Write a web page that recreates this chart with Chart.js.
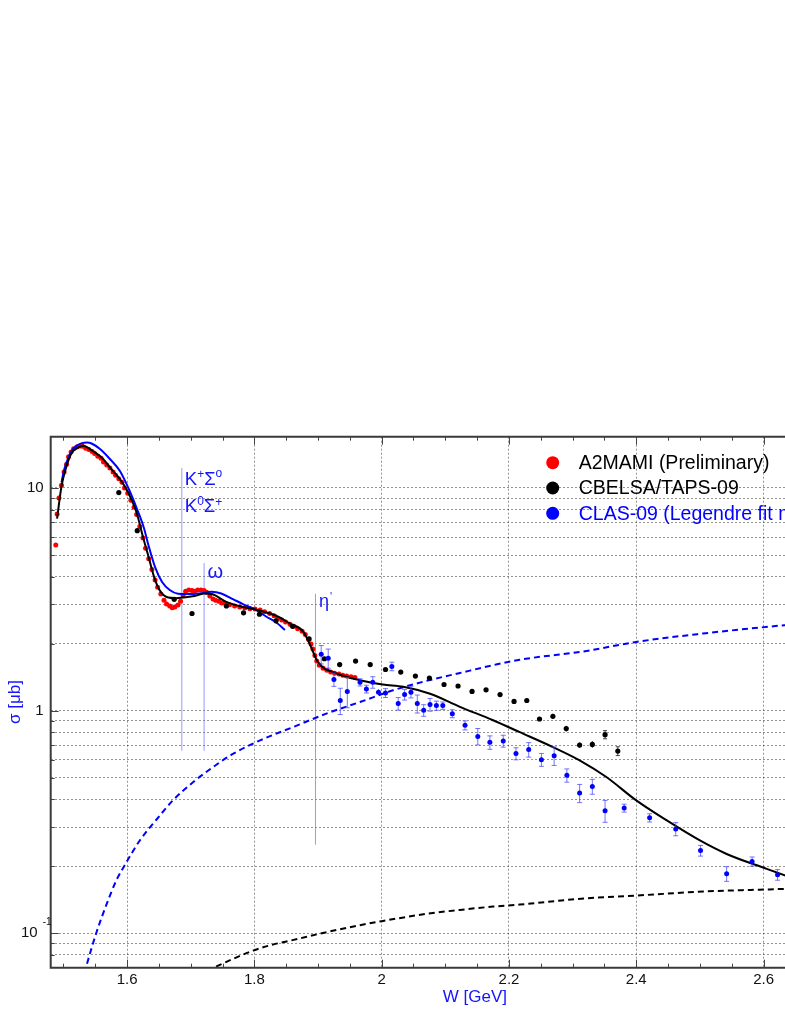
<!DOCTYPE html>
<html>
<head>
<meta charset="utf-8">
<script src="https://cdn.jsdelivr.net/npm/chart.js@4.4.1/dist/chart.umd.min.js"></script>
<style>
  html, body { margin: 0; padding: 0; background: #fff; overflow: hidden; }
  #wrap { width: 900px; height: 1015px; }
</style>
</head>
<body>
<div id="wrap"><canvas id="sigmaChart" width="900" height="1015"></canvas></div>
<script>
// axis ranges and ticks
const xRange = [1.48, 2.7];
const yRange = [0.07, 17.0];
const xTickValues = [1.6, 1.8, 2.0, 2.2, 2.4, 2.6];
const xMinorValues = [1.5, 1.55, 1.65, 1.7, 1.75, 1.85, 1.9, 1.95, 2.05, 2.1, 2.15, 2.25, 2.3, 2.35, 2.45, 2.5, 2.55, 2.65];
const yGridValues = [0.08, 0.09, 0.1, 0.2, 0.3, 0.4, 0.5, 0.6, 0.7, 0.8, 0.9, 1, 2, 3, 4, 5, 6, 7, 8, 9, 10];
const yLabelValues = [10, 1, 0.1];
const yLabelTexts = ['10', '1', '10'];
const yLabelSups = ['', '', '-1'];

// A2MAMI (Preliminary)
const a2mamiW = [1.488, 1.490, 1.493, 1.497, 1.501, 1.505, 1.508, 1.512, 1.516, 1.521, 1.526, 1.530, 1.535, 1.540, 1.545, 1.549,
  1.554, 1.559, 1.563, 1.568, 1.573, 1.578, 1.582, 1.587, 1.592, 1.596, 1.601, 1.606, 1.611, 1.615, 1.620, 1.625, 1.629, 1.634,
  1.639, 1.644, 1.648, 1.653, 1.658, 1.662, 1.667, 1.671, 1.675, 1.680, 1.684, 1.688, 1.692, 1.697, 1.702, 1.706, 1.711, 1.716,
  1.721, 1.725, 1.730, 1.735, 1.739, 1.744, 1.749, 1.755, 1.761, 1.769, 1.777, 1.785, 1.793, 1.801, 1.809, 1.816, 1.824, 1.831,
  1.837, 1.843, 1.849, 1.856, 1.862, 1.868, 1.875, 1.880, 1.885, 1.889, 1.892, 1.895, 1.898, 1.902, 1.908, 1.914, 1.920, 1.926,
  1.933, 1.939, 1.945, 1.952, 1.958];
const a2mamiSigma = [5.54, 7.64, 9.02, 10.3, 11.8, 12.8, 13.8, 14.5, 15.0, 15.3, 15.45, 15.4, 15.1, 14.9, 14.6, 14.3,
  13.9, 13.6, 13.1, 12.7, 12.3, 11.8, 11.4, 11.0, 10.6, 10.0, 9.48, 8.82, 8.20, 7.61, 6.72, 5.96, 5.36, 4.81,
  4.30, 3.86, 3.58, 3.34, 3.13, 3.01, 2.95, 2.90, 2.92, 2.98, 3.10, 3.30, 3.44, 3.48, 3.46, 3.44, 3.48, 3.48,
  3.46, 3.40, 3.27, 3.17, 3.13, 3.10, 3.04, 3.02, 2.99, 2.95, 2.92, 2.89, 2.87, 2.86, 2.83, 2.78, 2.73, 2.67,
  2.60, 2.55, 2.50, 2.44, 2.39, 2.33, 2.27, 2.20, 2.09, 1.99, 1.89, 1.77, 1.67, 1.60, 1.55, 1.52, 1.49, 1.47,
  1.46, 1.44, 1.43, 1.42, 1.41];

// CBELSA/TAPS-09
const cbelsaW = [1.587, 1.616, 1.674, 1.702, 1.756, 1.783, 1.808, 1.834, 1.860, 1.886, 1.910, 1.934, 1.959, 1.982, 2.006, 2.030,
  2.053, 2.075, 2.098, 2.120, 2.142, 2.164, 2.186, 2.208, 2.228, 2.248, 2.269, 2.290, 2.311, 2.331, 2.351, 2.371];
const cbelsaSigma = [9.54, 6.43, 3.16, 2.73, 2.95, 2.75, 2.71, 2.53, 2.39, 2.10, 1.71, 1.61, 1.67, 1.61, 1.53, 1.49,
  1.43, 1.40, 1.31, 1.29, 1.22, 1.24, 1.18, 1.10, 1.11, 0.917, 0.943, 0.83, 0.70, 0.705, 0.78, 0.658];
const cbelsaErr = [0.1, 0.06, 0.03, 0.025, 0.025, 0.025, 0.025, 0.02, 0.02, 0.02, 0.02, 0.02, 0.02, 0.02, 0.02, 0.02,
  0.02, 0.02, 0.02, 0.02, 0.02, 0.02, 0.02, 0.025, 0.025, 0.02, 0.025, 0.025, 0.02, 0.025, 0.033, 0.03];

// CLAS-09
const clasW = [1.905, 1.916, 1.925, 1.935, 1.946, 1.966, 1.976, 1.986, 1.995, 2.006, 2.016, 2.026, 2.036, 2.046, 2.056, 2.066,
  2.076, 2.086, 2.096, 2.111, 2.131, 2.151, 2.170, 2.191, 2.211, 2.231, 2.251, 2.271, 2.291, 2.311, 2.331, 2.351,
  2.381, 2.421, 2.462, 2.501, 2.542, 2.582, 2.622];
const clasSigma = [1.79, 1.72, 1.38, 1.11, 1.22, 1.34, 1.25, 1.34, 1.21, 1.20, 1.58, 1.075, 1.18, 1.21, 1.075, 1.003,
  1.064, 1.053, 1.053, 0.969, 0.859, 0.766, 0.72, 0.73, 0.641, 0.668, 0.602, 0.627, 0.512, 0.426, 0.456, 0.355,
  0.365, 0.33, 0.294, 0.235, 0.185, 0.21, 0.183];
const clasErr = [0.17, 0.17, 0.095, 0.15, 0.19, 0.05, 0.05, 0.08, 0.04, 0.055, 0.07, 0.07, 0.065, 0.07, 0.1, 0.06,
  0.07, 0.05, 0.04, 0.04, 0.04, 0.065, 0.05, 0.045, 0.04, 0.05, 0.04, 0.06, 0.035, 0.04, 0.035, 0.04,
  0.015, 0.014, 0.02, 0.013, 0.014, 0.01, 0.01];

// model curve (black solid)
const fitW = [1.490, 1.497, 1.504, 1.513, 1.523, 1.531, 1.544, 1.560, 1.576, 1.591, 1.602, 1.615, 1.625, 1.633, 1.642, 1.651,
  1.662, 1.678, 1.687, 1.706, 1.722, 1.733, 1.756, 1.782, 1.801, 1.835, 1.856, 1.877, 1.887, 1.900, 1.929, 1.966,
  2.002, 2.034, 2.076, 2.123, 2.175, 2.217, 2.269, 2.311, 2.353, 2.400, 2.448, 2.500, 2.542, 2.605, 2.657, 2.700];
const fitSigma = [7.28, 10.2, 12.3, 14.4, 15.2, 15.5, 14.8, 13.7, 12.1, 10.75, 9.5, 7.74, 6.02, 5.0, 4.02, 3.48,
  3.24, 3.2, 3.22, 3.27, 3.36, 3.34, 3.08, 2.92, 2.85, 2.66, 2.46, 2.26, 1.99, 1.65, 1.47, 1.37,
  1.31, 1.28, 1.19, 1.04, 0.905, 0.80, 0.686, 0.598, 0.503, 0.395, 0.321, 0.261, 0.227, 0.1946, 0.172, 0.156];

// Legendre fit (blue solid)
const legW = [1.497, 1.501, 1.507, 1.513, 1.521, 1.529, 1.537, 1.545, 1.557, 1.573, 1.589, 1.602, 1.615, 1.626, 1.634,
  1.644, 1.655, 1.667, 1.680, 1.695, 1.714, 1.733, 1.748, 1.767, 1.782, 1.801, 1.819, 1.835, 1.848];
const legSigma = [10.6, 12.05, 13.5, 14.7, 15.5, 15.9, 16.0, 15.8, 15.0, 13.5, 11.9, 10.0, 8.13, 6.68, 5.48,
  4.41, 3.78, 3.48, 3.35, 3.34, 3.36, 3.42, 3.36, 3.16, 3.01, 2.85, 2.64, 2.48, 2.30];

// dashed curves
const dashBlueW = [1.533, 1.537, 1.552, 1.568, 1.583, 1.599, 1.620, 1.646, 1.672, 1.704, 1.735, 1.767, 1.809, 1.861, 1.913,
  1.966, 2.018, 2.070, 2.123, 2.175, 2.217, 2.322, 2.400, 2.505, 2.633, 2.700];
const dashBlueSigma = [0.066, 0.0728, 0.101, 0.1354, 0.1724, 0.2084, 0.261, 0.3234, 0.395, 0.4774, 0.5575, 0.6405, 0.735, 0.844, 0.969,
  1.093, 1.234, 1.359, 1.476, 1.599, 1.692, 1.854, 2.035, 2.22, 2.42, 2.52];
const dashBlackW = [1.725, 1.737, 1.767, 1.798, 1.829, 1.860, 1.914, 1.966, 2.000, 2.070, 2.123, 2.175, 2.217, 2.322, 2.400, 2.505, 2.633, 2.700];
const dashBlackSigma = [0.0685, 0.0703, 0.0768, 0.0835, 0.0889, 0.0931, 0.1012, 0.1087, 0.1133, 0.1221, 0.1273, 0.1317, 0.1345, 0.1436, 0.1476, 0.1539, 0.1582, 0.161];

// thresholds
const thresholdW = [1.686, 1.721, 1.896];
const thresholdTop = [12.3, 4.6, 3.35];
const thresholdBottom = [0.66, 0.66, 0.25];

const legendLabels = ['A2MAMI (Preliminary)', 'CBELSA/TAPS-09', 'CLAS-09 (Legendre fit moments)'];
const legendColors = ['#ff0000', '#000000', '#0000ff'];
const legendTextColors = ['#000000', '#000000', '#0000ff'];

const FONT = '"Liberation Sans", Arial, sans-serif';
const BLUE_TEXT = '#1414ff';

function pairs(xs, ys) {
  return xs.map((x, i) => ({ x: x, y: ys[i] }));
}

function drawRuns(ctx, x, y, runs) {
  runs.forEach(r => {
    ctx.font = r[1] + 'px ' + FONT;
    ctx.fillText(r[0], x, y + r[2]);
    x += ctx.measureText(r[0]).width + (r[3] || 0);
  });
}

const sigmaDecor = {
  id: 'sigmaDecor',
  beforeDatasetDraw(chart, args) {
    const ds = chart.data.datasets[args.index];
    if (!ds.yErr) return;
    const ctx = chart.ctx;
    const ys = chart.scales.y;
    ctx.save();
    ctx.strokeStyle = ds.errColor;
    ctx.lineWidth = 1;
    args.meta.data.forEach((p, i) => {
      const v = ds.data[i].y, e = ds.yErr[i];
      const top = ys.getPixelForValue(v + e);
      const bot = ys.getPixelForValue(v - e);
      ctx.beginPath();
      ctx.moveTo(p.x, top); ctx.lineTo(p.x, bot);
      if (bot - top > 7) {
        ctx.moveTo(p.x - ds.capHalf, top); ctx.lineTo(p.x + ds.capHalf, top);
        ctx.moveTo(p.x - ds.capHalf, bot); ctx.lineTo(p.x + ds.capHalf, bot);
      }
      ctx.stroke();
    });
    ctx.restore();
  },
  afterDraw(chart) {
    const ctx = chart.ctx;
    const xs = chart.scales.x, ys = chart.scales.y;
    const a = chart.chartArea;
    ctx.save();

    // tick marks
    ctx.strokeStyle = '#444';
    ctx.lineWidth = 1;
    ctx.beginPath();
    xMinorValues.forEach(v => {
      const px = Math.round(xs.getPixelForValue(v)) + 0.5;
      ctx.moveTo(px, a.bottom); ctx.lineTo(px, a.bottom - 4);
      ctx.moveTo(px, a.top); ctx.lineTo(px, a.top + 4);
    });
    xTickValues.forEach(v => {
      const px = Math.round(xs.getPixelForValue(v)) + 0.5;
      ctx.moveTo(px, a.bottom); ctx.lineTo(px, a.bottom - 8);
      ctx.moveTo(px, a.top); ctx.lineTo(px, a.top + 8);
    });
    yGridValues.forEach(v => {
      const py = Math.round(ys.getPixelForValue(v)) + 0.5;
      const len = yLabelValues.includes(v) ? 8 : 4;
      ctx.moveTo(a.left, py); ctx.lineTo(a.left + len, py);
    });
    ctx.stroke();

    // frame
    ctx.strokeStyle = '#3a3a3a';
    ctx.lineWidth = 2;
    ctx.beginPath();
    ctx.moveTo(a.right + 40, a.top);
    ctx.lineTo(a.left, a.top);
    ctx.lineTo(a.left, a.bottom);
    ctx.lineTo(a.right + 40, a.bottom);
    ctx.stroke();

    // y tick labels
    ctx.fillStyle = '#111';
    ctx.textBaseline = 'middle';
    yLabelValues.forEach((v, i) => {
      const py = ys.getPixelForValue(v);
      ctx.font = '15px ' + FONT;
      if (yLabelSups[i]) {
        ctx.textAlign = 'right';
        ctx.fillText(yLabelTexts[i], a.left - 13, py);
        ctx.textAlign = 'left';
        ctx.font = '10px ' + FONT;
        ctx.fillText(yLabelSups[i], a.left - 8, py - 11);
      } else {
        ctx.textAlign = 'right';
        ctx.fillText(yLabelTexts[i], a.left - 7, py);
      }
    });

    // axis titles
    ctx.fillStyle = BLUE_TEXT;
    ctx.font = '17px ' + FONT;
    ctx.textAlign = 'right';
    ctx.textBaseline = 'middle';
    ctx.fillText('W [GeV]', 507, 997);
    ctx.save();
    ctx.translate(15, 702);
    ctx.rotate(-Math.PI / 2);
    ctx.textAlign = 'center';
    ctx.fillText('\u03c3 [\u03bcb]', 0, 0);
    ctx.restore();

    // threshold labels
    ctx.fillStyle = BLUE_TEXT;
    ctx.textAlign = 'left';
    ctx.textBaseline = 'alphabetic';
    const k = xs.getPixelForValue(thresholdW[0]) + 3;
    drawRuns(ctx, k, ys.getPixelForValue(10.3), [['K', 18.5, 0], ['+', 12, -7], ['\u03a3', 18.5, 0], ['o', 12, -8]]);
    drawRuns(ctx, k, ys.getPixelForValue(7.8), [['K', 18.5, 0], ['0', 12, -7], ['\u03a3', 18.5, 0], ['+', 12, -6]]);
    drawRuns(ctx, xs.getPixelForValue(thresholdW[1]) + 3.5, ys.getPixelForValue(3.93), [['\u03c9', 20, 0]]);
    drawRuns(ctx, xs.getPixelForValue(thresholdW[2]) + 3.5, ys.getPixelForValue(2.91), [['\u03b7', 18, 0, 1], ["'", 11, -7]]);

    // legend
    const lx = a.left + 502;
    legendLabels.forEach((t, i) => {
      const ly = a.top + 26 + i * 25.3;
      ctx.fillStyle = legendColors[i];
      ctx.beginPath();
      ctx.arc(lx, ly, 6.5, 0, Math.PI * 2);
      ctx.fill();
      ctx.fillStyle = legendTextColors[i];
      ctx.font = '19.5px ' + FONT;
      ctx.textBaseline = 'middle';
      ctx.fillText(t, lx + 26, ly + 1);
    });
    ctx.restore();
  }
};

const gridStyle = { color: 'rgba(0,0,0,0.42)', lineWidth: 1, drawTicks: false };
const borderStyle = { display: false, dash: [2, 2] };

const datasets = [
  {
    label: 'CLAS-09', data: pairs(clasW, clasSigma), yErr: clasErr, errColor: 'rgba(70,70,255,0.75)', capHalf: 2.5,
    backgroundColor: '#0000ff', borderColor: '#0000ff', pointRadius: 2.5, pointBorderWidth: 0, showLine: false, order: 1
  },
  {
    label: 'CBELSA/TAPS-09', data: pairs(cbelsaW, cbelsaSigma), yErr: cbelsaErr, errColor: '#444', capHalf: 2,
    backgroundColor: '#000', borderColor: '#000', pointRadius: 2.6, pointBorderWidth: 0, showLine: false, order: 2
  },
  {
    label: 'fit', data: pairs(fitW, fitSigma), showLine: true, borderColor: '#000', borderWidth: 2,
    pointRadius: 0, cubicInterpolationMode: 'monotone', order: 3
  },
  {
    label: 'Legendre', data: pairs(legW, legSigma), showLine: true, borderColor: '#0000ff', borderWidth: 2,
    pointRadius: 0, cubicInterpolationMode: 'monotone', order: 4
  },
  {
    label: 'A2MAMI', data: pairs(a2mamiW, a2mamiSigma),
    backgroundColor: '#ff0000', borderColor: '#ff0000', pointRadius: 2.5, pointBorderWidth: 0, showLine: false, order: 5
  },
  {
    label: 'dashBlue', data: pairs(dashBlueW, dashBlueSigma), showLine: true, borderColor: '#0000ff', borderWidth: 2,
    borderDash: [6, 4], pointRadius: 0, cubicInterpolationMode: 'monotone', order: 6
  },
  {
    label: 'dashBlack', data: pairs(dashBlackW, dashBlackSigma), showLine: true, borderColor: '#000', borderWidth: 2,
    borderDash: [6, 4], pointRadius: 0, cubicInterpolationMode: 'monotone', order: 7
  }
];
thresholdW.forEach((w, i) => {
  datasets.push({
    label: 'thr' + i, data: [{ x: w, y: thresholdBottom[i] }, { x: w, y: thresholdTop[i] }],
    showLine: true, borderColor: 'rgba(110,110,255,0.7)', borderWidth: 1, pointRadius: 0, order: 8
  });
});

new Chart(document.getElementById('sigmaChart').getContext('2d'), {
  type: 'scatter',
  data: { datasets: datasets },
  options: {
    responsive: false,
    animation: false,
    events: [],
    layout: { padding: { top: 436.7, right: 72.8, left: 0, bottom: 0 } },
    plugins: { legend: { display: false }, tooltip: { enabled: false } },
    scales: {
      x: {
        type: 'linear', min: xRange[0], max: xRange[1],
        afterBuildTicks: s => { s.ticks = xTickValues.map(v => ({ value: v })); },
        afterFit: s => { s.height = 47.3; },
        grid: gridStyle, border: borderStyle,
        ticks: {
          color: '#111', font: { family: FONT, size: 15 }, padding: 3, maxRotation: 0, autoSkip: false,
          callback: v => String(Number(v.toFixed(1)))
        }
      },
      y: {
        type: 'logarithmic', min: yRange[0], max: yRange[1],
        afterBuildTicks: s => { s.ticks = yGridValues.map(v => ({ value: v })); },
        afterFit: s => { s.width = 50.7; },
        grid: gridStyle, border: borderStyle,
        ticks: { display: false }
      }
    }
  },
  plugins: [sigmaDecor]
});
</script>
</body>
</html>
